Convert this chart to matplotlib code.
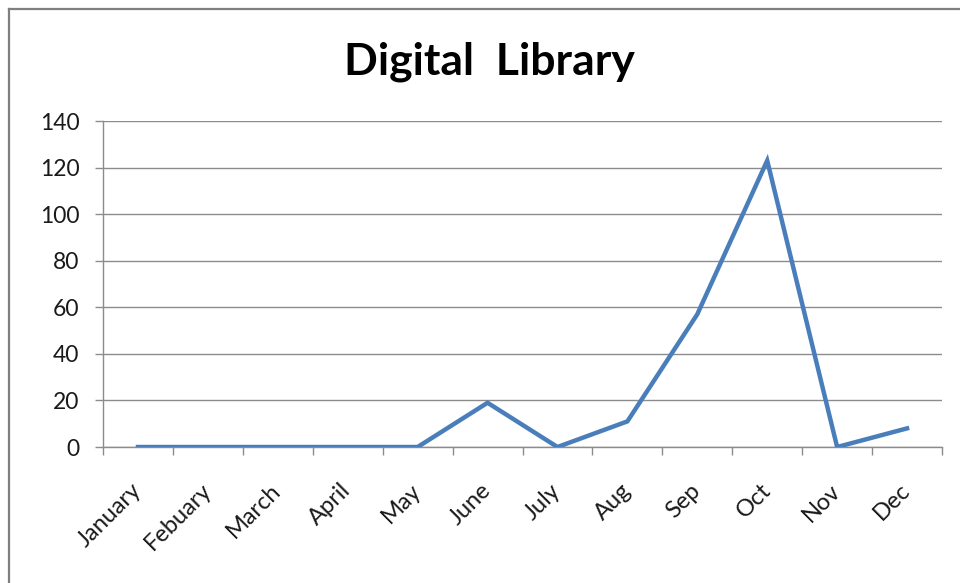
import matplotlib
matplotlib.use("Agg")
import matplotlib.pyplot as plt
from matplotlib.lines import Line2D
import numpy as np

months = ["January", "Febuary", "March", "April", "May", "June", "July",
          "Aug", "Sep", "Oct", "Nov", "Dec"]
values = [0, 0, 0, 0, 0, 19, 0, 11, 57, 123, 0, 8]
yticks = [0, 20, 40, 60, 80, 100, 120, 140]
title = "Digital  Library"

plt.rcParams['font.family'] = ['Lato', 'DejaVu Sans']

fig = plt.figure(figsize=(9.6, 5.83), dpi=100)
ax = fig.add_axes([103/960, 1-447/583, (942-103)/960, (447-121)/583])

x = np.arange(len(months))
ax.plot(x, values, color="#4A7EBB", lw=3.2, solid_joinstyle="miter", zorder=3)

ax.set_xlim(-0.5, len(months) - 0.5)
ax.set_ylim(0, 140)
ax.set_yticks(yticks)
ax.set_yticklabels([str(v) for v in yticks], fontsize=16.5, color="#1a1a1a")
ax.yaxis.grid(True, color="#8c8c8c", lw=1.0)
ax.set_axisbelow(True)

ax.set_xticks(np.arange(-0.5, len(months), 1.0))
ax.set_xticklabels([])
ax.set_xticks(x, minor=True)
ax.set_xticklabels(months, minor=True, rotation=45, ha="right", va="center",
                   rotation_mode="anchor", fontsize=17, color="#1a1a1a")
ax.tick_params(axis="x", which="minor", length=0, pad=29)
ax.tick_params(axis="x", which="major", length=6, color="#8c8c8c", width=1.0)
ax.tick_params(axis="y", length=6, color="#8c8c8c", width=1.0, pad=11)

for s in ["top", "right"]:
    ax.spines[s].set_visible(False)
for s in ["left", "bottom"]:
    ax.spines[s].set_color("#8c8c8c")
    ax.spines[s].set_linewidth(1.0)

fig.text(489/960, 1-62/583, title, ha="center", va="center",
         fontsize=32, fontweight="bold", color="black")

# outer chart-area border (left and top edges visible)
fig.add_artist(Line2D([9/960, 9/960], [0, 1-9/583], transform=fig.transFigure,
                      color="#7f7f7f", lw=1.6))
fig.add_artist(Line2D([9/960, 1], [1-9/583, 1-9/583], transform=fig.transFigure,
                      color="#7f7f7f", lw=1.6))

fig.savefig("out.png", dpi=100)
